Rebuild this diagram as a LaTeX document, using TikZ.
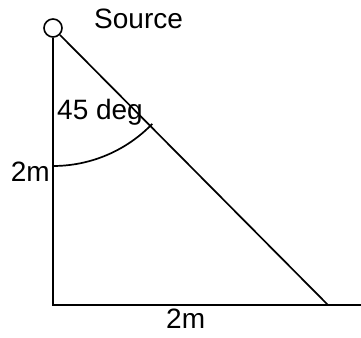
\documentclass[tikz,border=0pt]{standalone}
\usepackage{fontspec}
\setmainfont{Liberation Sans}
\begin{document}
\begin{tikzpicture}[x=1pt,y=1pt,
  ln/.style={line width=1.7pt,black},
  lbl/.style={font=\fontsize{28}{32}\selectfont,inner sep=0pt}]
\useasboundingbox (0,0) rectangle (361,337);
\node[circle,draw,line width=1.6pt,minimum size=18pt,inner sep=0pt] (src) at (53,309) {};
\coordinate (corner) at (53,32);
\coordinate (dend) at (328,32);
\coordinate (hend) at (361,32);
\coordinate (astart) at (53,171);
\draw[ln] (src.south) -- (corner) -- (hend);
\draw[ln] (src.south east) -- (dend);
\draw[ln] (astart) arc[start angle=-90,end angle=-44,radius=138];
\node[lbl,anchor=base west] (tsrc) at (94,308) {Source};
\node[lbl,anchor=base west] (tdeg) at (57,217) {45 deg};
\node[lbl,anchor=base east] (tleft) at (50,155) {2m};
\node[lbl,anchor=base west] (tbot) at (166,9) {2m};
\end{tikzpicture}
\end{document}
